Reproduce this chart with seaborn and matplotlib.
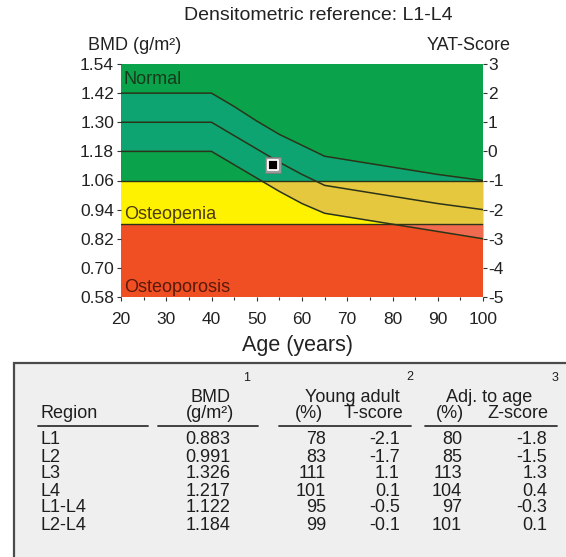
import numpy as np
import pandas as pd
import matplotlib
matplotlib.use("Agg")
import matplotlib.pyplot as plt
from matplotlib.patches import Rectangle
from matplotlib.lines import Line2D
import seaborn as sns

# ---------------- data ----------------
ages = [20, 40, 45, 50, 55, 60, 65, 70, 80, 90, 100]
upper_curve = [1.42, 1.42, 1.365, 1.305, 1.25, 1.205, 1.16, 1.145, 1.115, 1.085, 1.06]
mid_curve = [1.30, 1.30, 1.245, 1.19, 1.135, 1.085, 1.04, 1.025, 0.995, 0.965, 0.94]
lower_curve = [1.18, 1.18, 1.125, 1.07, 1.015, 0.965, 0.925, 0.91, 0.88, 0.85, 0.82]

bmd_ticks = [0.58, 0.70, 0.82, 0.94, 1.06, 1.18, 1.30, 1.42, 1.54]
yat_ticks = [-5, -4, -3, -2, -1, 0, 1, 2, 3]
age_ticks = [20, 30, 40, 50, 60, 70, 80, 90, 100]

zone_names = ["Normal", "Osteopenia", "Osteoporosis"]
zone_bounds = [(1.06, 1.54), (0.88, 1.06), (0.58, 0.88)]

patient_age = 53.5
regions = ["L1", "L2", "L3", "L4", "L1-L4", "L2-L4"]
bmd_vals = [0.883, 0.991, 1.326, 1.217, 1.122, 1.184]
ya_pct = [78, 83, 111, 101, 95, 99]
t_scores = [-2.1, -1.7, 1.1, 0.1, -0.5, -0.1]
age_pct = [80, 85, 113, 104, 97, 101]
z_scores = [-1.8, -1.5, 1.3, 0.4, -0.3, 0.1]

# ---------------- style ----------------
sns.set_theme(style="white")
plt.rcParams["font.family"] = ["Liberation Sans", "DejaVu Sans"]
plt.rcParams["axes.unicode_minus"] = False

zone_colors = ["#0aa34b", "#fff200", "#f04e23"]
band_colors = ["#0da472", "#e6c83e", "#ef6a4e"]
line_color = "#2b3418"
text_color = "#222222"

W, H = 566, 557
fig = plt.figure(figsize=(W / 100, H / 100), dpi=100)


def fx(x):
    return x / W


def fy(y):
    return 1 - y / H


ax = fig.add_axes([fx(121), fy(297), (483 - 121) / W, (297 - 64) / H])
ax.set_xlim(20, 100)
ax.set_ylim(0.58, 1.54)

# zones
for (lo, hi), c in zip(zone_bounds, zone_colors):
    ax.axhspan(lo, hi, color=c, lw=0, zorder=0)

# reference band, coloured per zone
for (lo, hi), c in zip(zone_bounds, band_colors):
    poly = ax.fill_between(ages, lower_curve, upper_curve, color=c, lw=0, zorder=1)
    poly.set_clip_path(Rectangle((20, lo), 80, hi - lo, transform=ax.transData))

# zone boundaries
for lo, hi in zone_bounds[:-1]:
    ax.axhline(lo, color=line_color, lw=1.0, zorder=2)

curves = pd.DataFrame({
    "age": ages * 3,
    "bmd": upper_curve + mid_curve + lower_curve,
    "curve": ["upper"] * len(ages) + ["mid"] * len(ages) + ["lower"] * len(ages),
})
sns.lineplot(data=curves, x="age", y="bmd", units="curve", estimator=None,
             color=line_color, lw=1.1, ax=ax, zorder=3)

# patient point (L1-L4)
pt = pd.DataFrame({"age": [patient_age], "bmd": [bmd_vals[regions.index("L1-L4")]]})
sns.scatterplot(data=pt, x="age", y="bmd", marker="s", s=130, color="#9a9a9a",
                edgecolor="#777777", linewidth=0.5, ax=ax, zorder=4)
sns.scatterplot(data=pt, x="age", y="bmd", marker="s", s=60, color="black",
                edgecolor="white", linewidth=1.3, ax=ax, zorder=5)

# zone labels
label_y = [1.475, 0.918, 0.621]
label_colors = ["#173a1a", "#4a3a10", "#5a1a0a"]
for name, yv, lc in zip(zone_names, label_y, label_colors):
    ax.text(20.6, yv, name, fontsize=13, color=lc, va="center", ha="left", zorder=6)

ax.set_xlabel("")
ax.set_ylabel("")
ax.set_xticks(age_ticks)
ax.set_xticks(np.arange(25, 100, 5), minor=True)
ax.set_yticks(bmd_ticks)
ax.set_yticklabels([f"{v:.2f}" for v in bmd_ticks])
ax.tick_params(axis="both", which="major", length=3, width=0.8, color="#333333",
               labelsize=12.5, labelcolor=text_color, direction="out")
ax.tick_params(axis="x", which="minor", length=2, width=0.8, color="#333333",
               direction="out", bottom=True)
ax.tick_params(axis="x", pad=8)
ax.tick_params(axis="y", pad=2, left=True)
ax.tick_params(axis="x", bottom=True)
for s in ax.spines.values():
    s.set_visible(False)

ax2 = ax.twinx()
ax2.set_ylim(-5, 3)
ax2.set_yticks(yat_ticks)
ax2.set_yticklabels([str(v) for v in yat_ticks])
ax2.tick_params(axis="y", length=3, width=0.8, color="#333333", labelsize=12.5,
                labelcolor=text_color, pad=0.5, right=True, direction="out")
ax2.grid(False)
for s in ax2.spines.values():
    s.set_visible(False)

fig.text(fx(318), fy(16), "Densitometric reference: L1-L4", fontsize=14,
         ha="center", va="center", color=text_color)
fig.text(fx(88), fy(45), "BMD (g/m²)", fontsize=13, ha="left", va="center", color=text_color)
fig.text(fx(511), fy(45), "YAT-Score", fontsize=13, ha="right", va="center", color=text_color)
fig.text(fx(298), fy(346), "Age (years)", fontsize=15.5, ha="center", va="center", color=text_color)

# ---------------- table ----------------
fig.patches.append(Rectangle((fx(14), fy(H + 5)), (W - 14 + 10) / W, (H + 5 - 363) / H,
                             transform=fig.transFigure, facecolor="#efefef",
                             edgecolor="#4a4a4a", lw=1.6, zorder=0))

fs = 13
tc = "#1e1e1e"
fig.text(fx(40), fy(413), "Region", fontsize=fs, ha="left", va="center", color=tc)
fig.text(fx(210), fy(397), "BMD", fontsize=fs, ha="center", va="center", color=tc)
fig.text(fx(210), fy(413), "(g/m²)", fontsize=fs, ha="center", va="center", color=tc)
fig.text(fx(247), fy(378), "1", fontsize=9, ha="center", va="center", color=tc)
fig.text(fx(352), fy(397), "Young adult", fontsize=fs, ha="center", va="center", color=tc)
fig.text(fx(323), fy(413), "(%)", fontsize=fs, ha="right", va="center", color=tc)
fig.text(fx(403), fy(413), "T-score", fontsize=fs, ha="right", va="center", color=tc)
fig.text(fx(410), fy(377), "2", fontsize=9, ha="center", va="center", color=tc)
fig.text(fx(489), fy(397), "Adj. to age", fontsize=fs, ha="center", va="center", color=tc)
fig.text(fx(464), fy(413), "(%)", fontsize=fs, ha="right", va="center", color=tc)
fig.text(fx(548), fy(413), "Z-score", fontsize=fs, ha="right", va="center", color=tc)
fig.text(fx(555), fy(378), "3", fontsize=9, ha="center", va="center", color=tc)

for x0, x1 in [(38, 148), (158, 258), (279, 411), (425, 557)]:
    fig.add_artist(Line2D([fx(x0), fx(x1)], [fy(426), fy(426)], color="#333333",
                          lw=1.3, transform=fig.transFigure))

row_y = [440, 457, 474, 491, 508, 525]
for i, yv in enumerate(row_y):
    fig.text(fx(40), fy(yv), regions[i], fontsize=fs, ha="left", va="center", color=tc)
    fig.text(fx(208), fy(yv), f"{bmd_vals[i]:.3f}", fontsize=fs, ha="center", va="center", color=tc)
    fig.text(fx(326), fy(yv), f"{ya_pct[i]}", fontsize=fs, ha="right", va="center", color=tc)
    fig.text(fx(400), fy(yv), f"{t_scores[i]:.1f}", fontsize=fs, ha="right", va="center", color=tc)
    fig.text(fx(462), fy(yv), f"{age_pct[i]}", fontsize=fs, ha="right", va="center", color=tc)
    fig.text(fx(547), fy(yv), f"{z_scores[i]:.1f}", fontsize=fs, ha="right", va="center", color=tc)

fig.savefig("out.png", dpi=100)
